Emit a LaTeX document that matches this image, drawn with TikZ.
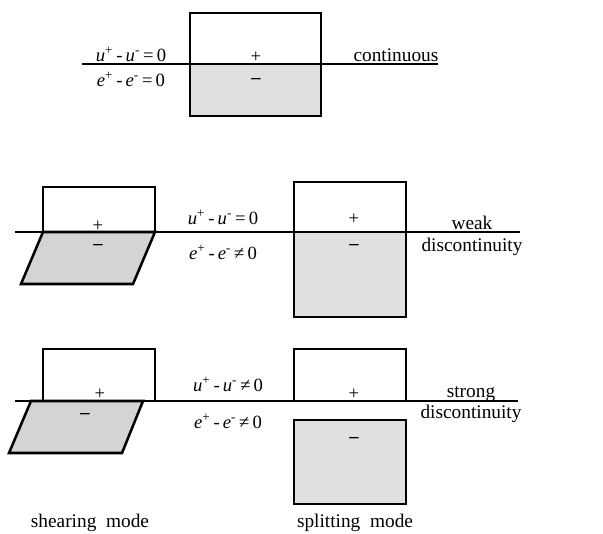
\documentclass[tikz,border=0pt]{standalone}
\usepackage{fontspec}
\setmainfont{Liberation Serif}
\newcommand{\jump}[2]{\textit{#1}\textsuperscript{+}\,-\,\textit{#1}\textsuperscript{-}\,#2\,0}
\begin{document}
\begin{tikzpicture}[x=0.75pt,y=-0.75pt,
  lbl/.style={font=\fontsize{14.5}{16}\selectfont, inner sep=0pt},
  eqn/.style={font=\fontsize{14}{16}\selectfont, inner sep=0pt},
  sgn/.style={font=\fontsize{14}{15}\selectfont, inner sep=0pt},
  body/.style={draw=black, line width=1.9pt, line join=miter},
  lowfill/.style={fill=black!12},
  shearfill/.style={fill=black!17},
  crack/.style={draw=black, line width=1.1pt}]
\useasboundingbox (0,0) rectangle (603,533);

% ---------- top: continuous ----------
\fill[lowfill] (190,64) rectangle (321,116);
\draw[crack] (82,64) -- (438,64);
\draw[body] (190,13) rectangle (321,116);
\draw[body] (190,64) -- (321,64);
\node[sgn] (p1) at (256,57) {+};
\node[sgn] (m1) at (256,81) {\textbf{--}};
\node[eqn, anchor=base] (u1) at (131,61) {\jump{u}{=}};
\node[eqn, anchor=base] (e1) at (131,86) {\jump{e}{=}};
\node[lbl, anchor=base] (c1) at (396,61) {continuous};

% ---------- middle: weak discontinuity ----------
\fill[shearfill] (43,232) -- (155,232) -- (133,284) -- (21,284) -- cycle;
\fill[lowfill] (294,232) rectangle (406,317);
\draw[crack] (15,232) -- (520,232);
\draw[body] (43,232) -- (43,187) -- (155,187) -- (155,232);
\draw[body] (43,232) -- (155,232) -- (133,284) -- (21,284) -- cycle;
\draw[body] (294,182) rectangle (406,317);
\draw[body] (294,232) -- (406,232);
\node[sgn] (p2) at (98,226) {+};
\node[sgn] (m2) at (98,247) {\textbf{--}};
\node[sgn] (p3) at (354,219) {+};
\node[sgn] (m3) at (354,247) {\textbf{--}};
\node[eqn, anchor=base] (u2) at (223,224) {\jump{u}{=}};
\node[eqn, anchor=base] (e2) at (223,259) {\jump{e}{≠}};
\node[lbl, anchor=base] (w1) at (472,229) {weak};
\node[lbl, anchor=base] (w2) at (472,251) {discontinuity};

% ---------- bottom: strong discontinuity ----------
\fill[shearfill] (31,401) -- (143,401) -- (122,453) -- (9,453) -- cycle;
\fill[lowfill] (294,420) rectangle (406,504);
\draw[crack] (15,401) -- (518,401);
\draw[body] (43,401) -- (43,349) -- (155,349) -- (155,401);
\draw[body] (31,401) -- (143,401) -- (122,453) -- (9,453) -- cycle;
\draw[body] (294,401) -- (294,349) -- (406,349) -- (406,401);
\draw[body] (294,420) rectangle (406,504);
\node[sgn] (p4) at (100,394) {+};
\node[sgn] (m4) at (85,416) {\textbf{--}};
\node[sgn] (p5) at (354,394) {+};
\node[sgn] (m5) at (354,440) {\textbf{--}};
\node[eqn, anchor=base] (u3) at (228,391) {\jump{u}{≠}};
\node[eqn, anchor=base] (e3) at (228,428) {\jump{e}{≠}};
\node[lbl, anchor=base] (s1) at (471,397) {strong};
\node[lbl, anchor=base] (s2) at (471,418) {discontinuity};

% ---------- captions ----------
\node[lbl, anchor=base] (cap1) at (90,527) {shearing\ \ mode};
\node[lbl, anchor=base] (cap2) at (355,527) {splitting\ \ mode};
\end{tikzpicture}
\end{document}
